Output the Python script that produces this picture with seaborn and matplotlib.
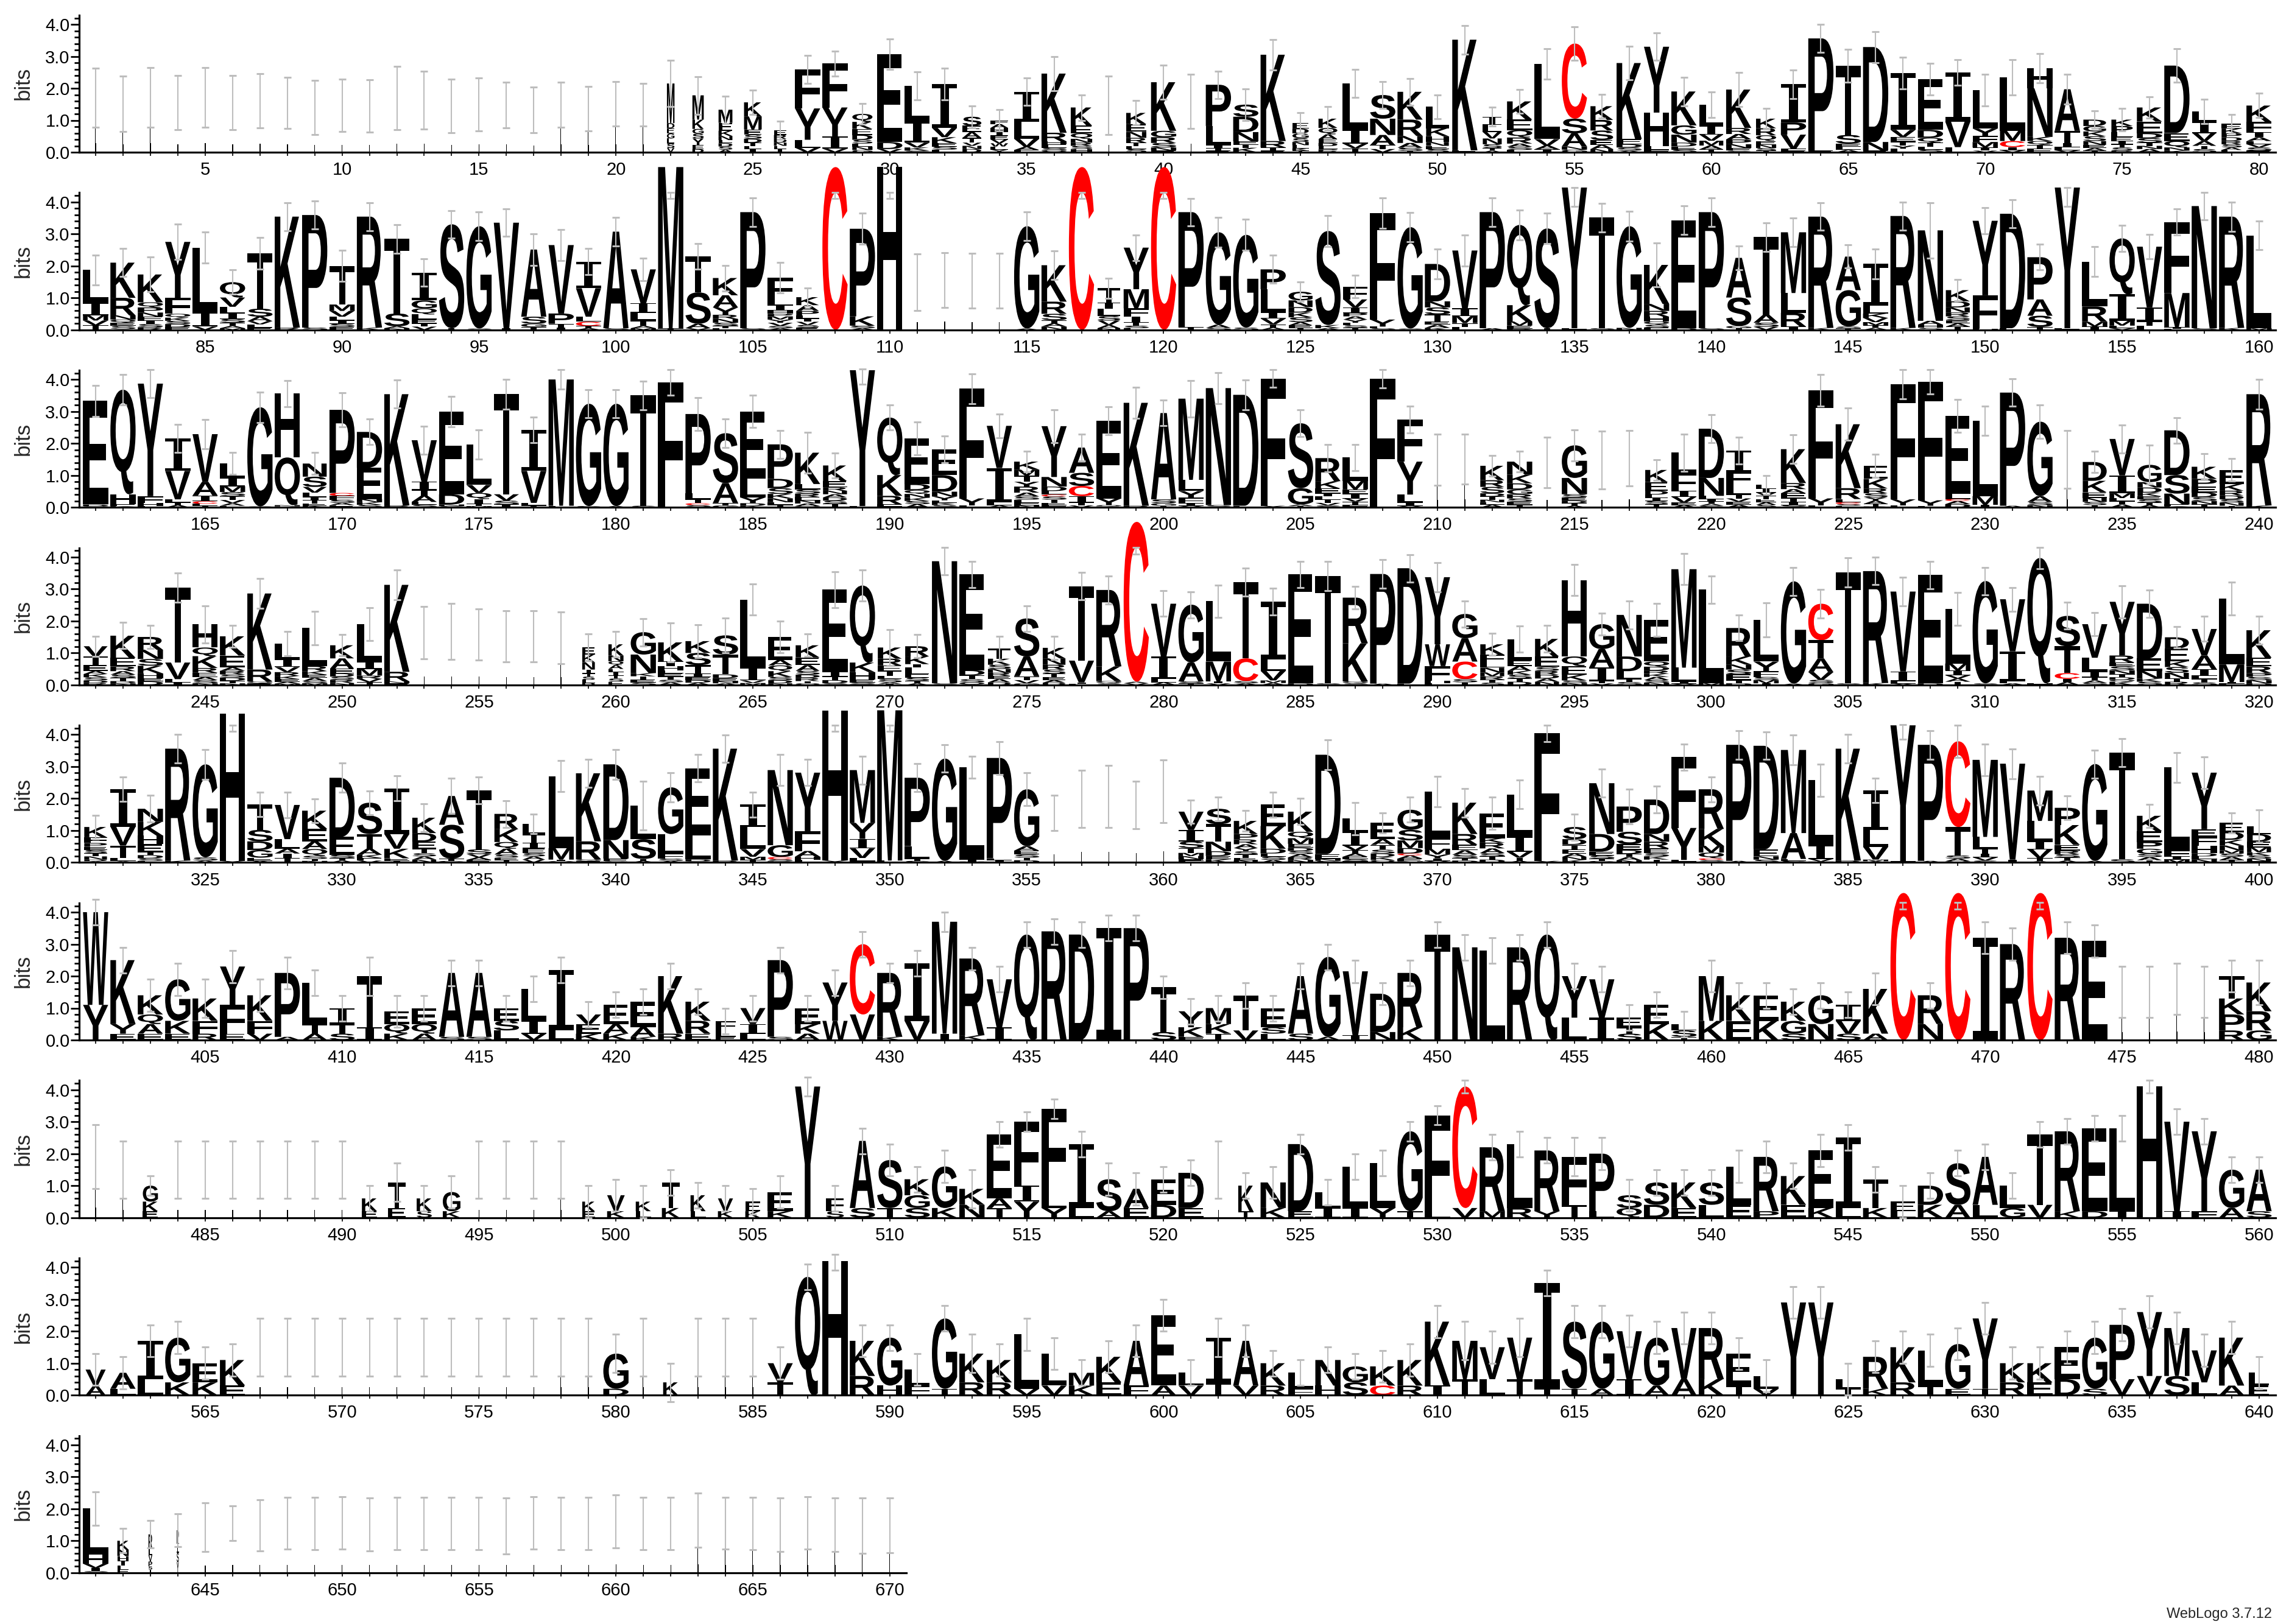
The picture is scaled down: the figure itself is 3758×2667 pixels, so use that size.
import matplotlib
matplotlib.use("Agg")
import matplotlib.pyplot as plt
import numpy as np
import pandas as pd
import seaborn as sns
from matplotlib.textpath import TextPath
from matplotlib.path import Path
from matplotlib.patches import PathPatch
from matplotlib.transforms import Affine2D
from matplotlib.font_manager import FontProperties
from matplotlib.ticker import FixedLocator, FixedFormatter

# ---------------- data: one token per position ----------------
# token = letters top->bottom with heights in bits, w = stack width fraction,
# t = error bar top, b = error bar bottom (default symmetric about stack top)
ROW_START = [1, 81, 161, 241, 321, 401, 481, 561, 641]

ROW1 = [
"L1.71 w.04 t2.63","L1.52 w.04 t2.39","L1.72 w.04 t2.65","L1.55 w.04 t2.40","L1.72 w.04 t2.65",
"L1.55 w.04 t2.40","L1.61 w.04 t2.46","L1.54 w.04 t2.34","L1.40 w.04 t2.24","L1.47 w.04 t2.29",
"L1.45 w.04 t2.27","L1.69 w.04 t2.68","L1.63 w.04 t2.54","L1.45 w.04 t2.29","L1.49 w.04 t2.32",
"L1.48 w.04 t2.19","L1.32 w.04 t2.03","L1.49 w.04 t2.19","L1.36 w.04 t2.06","L1.51 w.04 t2.21",
"L1.48 w.04 t2.15","M1.24 D.16 E.16 G.16 L.16 S.14 V.13 w.3 t2.88","M.76 K.29 G.15 S.15 Y.2 E.13 D.1 w.45 t2.37",
"M.41 E.25 K.16 N.13 L.1 D.1 S.1 A.08 w.55 t1.76","K.44 M.41 E.16 S.13 D.12 T.1 L.1 I.1 w.7 t1.94",
"E.15 R.12 D.12 N.1 L.1 I.1 w.5 t.98","F1.22 Y.98 L.25 V.14 t3.02","F1.38 Y.91 I.38 V.11 t3.17",
"Q.25 K.22 E.19 D.15 S.12 L.1 N.1 G.07 w.8 t1.52","E2.75 D.22 V.1 t3.54","L1.12 I.66 V.15 K.1 S.05 t2.52",
"I1.37 V.29 K.19 E.1 S.1 L.08 t2.63","S.28 E.2 A.18 T.15 V.1 N.1 D.1 w.75 t1.45",
"F.12 A.12 H.12 I.12 E.12 V.12 W.1 L.1 Y.08 w.7 t1.33","I.93 L.54 V.25 A.1 E.07 t2.32",
"K1.85 R.27 H.1 E.1 S.07 Q.07 t3.0","K.57 E.24 Q.17 N.12 R.1 S.1 H.1 w.85 t1.80","L1.47 w.04 t2.38",
"K.35 E.24 N.19 R.15 T.1 L.1 S.1 w.8 t1.61","K1.52 G.2 R.18 S.14 N.1 E.05 t2.73","L1.59 w.04 t2.44",
"P1.29 L.6 I.1 T.07 E.05 t2.54","S.38 D.48 N.29 E.1 T.1 K.14 t1.99","K2.7 R.2 T.1 E.05 t3.52",
"E.18 D.15 G.15 S.12 N.1 L.1 K.07 T.05 w.65 t1.23","K.29 Q.2 A.15 E.12 D.1 L.1 P.05 R.04 w.75 t1.42",
"L1.45 I.43 V.15 T.12 t2.59","S.74 N.51 A.32 T.12 V.1 t2.21","K.87 R.51 N.22 A.15 S.1 T.04 t2.31",
"L.67 K.25 H.18 N.12 E.1 S.1 w.9 t1.80","K3.46 E.06 t3.97","I.26 L.22 V.2 N.18 S.12 T.08 A.05 w.75 t1.41",
"K.57 E.33 Q.23 R.19 A.1 S.1 L.07 t1.97","L2.35 V.2 A.12 I.09 t3.23","C2.35 S.46 A.41 N.1 G.08 t3.92",
"K.43 R.33 S.3 E.15 A.13 N.1 w.9 t1.81","K2.38 E.16 D.1 S.1 A.05 t3.31","Y2.06 H1.05 L.12 F.07 t3.73",
"K1.06 G.29 N.25 D.12 E.1 S.08 t2.35","L.67 I.27 V.19 M.15 A.12 T.09 w.95 t1.89",
"K1.2 R.19 A.17 P.15 N.12 E.08 S.05 t2.49","K.3 R.22 Q.18 E.12 N.1 S.08 T.05 w.8 t1.38",
"I1.2 P.38 V.44 F.06 E.05 t2.58","P3.51 E.05 t4.0","T2.16 S.27 E.1 L.1 A.07 t3.21","D2.97 N.27 E.05 t3.78",
"I1.78 V.22 E.15 T.12 Y.1 L.11 t2.97","E1.59 D.25 Q.15 T.12 L.1 S.08 t2.79","I1.54 V.8 L.16 t2.9",
"L1.2 Y.23 F.19 M.17 I.1 V.05 t2.44","L1.67 M.32 C.19 I.1 V.06 t2.89","H.63 N1.52 K.13 Q.12 T.12 E.11 t3.08",
"A1.3 T.38 I.13 L.1 V.06 t2.44","D.2 G.17 K.15 S.15 N.12 E.1 A.08 T.05 w.9 t1.30",
"K.2 P.2 L.15 E.12 I.1 T.1 S.1 R.05 w.85 t1.37","K.44 E.37 D.15 S.14 T.1 N.1 A.1 t1.73",
"D2.11 E.25 Q.2 N.1 K.05 t3.23","L.32 I.35 V.25 A.15 T.1 S.1 w.95 t1.65",
"E.15 K.15 P.12 D.12 R.1 S.1 A.08 L.07 w.8 t1.19","K.51 F.32 I.16 A.12 L.1 V.1 S.1 E.05 t1.84",
]

ROW2 = [
"L1.02 I.4 M.16 V.15 T.14 t2.33","K1.1 R.55 N.13 Q.1 E.1 S.1 T.02 t2.54","K.87 Q.16 P.16 N.13 E.13 I.1 S.1 R.08 t2.27",
"Y1.75 F.5 Q.12 K.1 S.1 D.1 E.08 t3.3","L2.03 I.44 V.1 t3.05","Q.48 V.29 L.2 I.18 S.12 T.1 A.07 M.05 t1.87",
"T1.73 S.25 A.14 V.1 L.1 E.07 t2.89","K3.47 R.07 t3.98","P3.52 S.07 t4.03","T1.21 M.2 V.18 L.12 I.1 S.1 E.09 t2.48",
"R3.47 K.07 t3.98","T2.33 S.4 A.06 N.05 t3.29","I.87 G.25 Q.19 L.16 E.12 T.1 V.1 t2.22","S3.25 T.05 t3.73",
"G3.2 S.04 t3.68","V3.3 I.05 t3.78","A2.1 S.22 G.1 T.09 t3.0","V2.14 P.32 T.12 I.07 t3.13",
"I.83 V.89 L.16 C.13 T.07 A.05 t2.54","A3.02 S.05 t3.51","V1.06 I.3 L.24 T.17 A.07 M.05 t2.24","M5.05 T.04 b4.1 t4.3",
"T1.13 S.98 A.14 V.05 t2.7","K.54 A.38 Y.23 R.13 N.12 S.1 T.07 E.05 t2.02","P3.63 S.05 t4.13",
"F.68 L.19 I.15 H.11 P.08 M.1 Y.1 V.1 S.07 A.05 t2.1","K.25 A.18 P.14 L.1 I.1 V.1 S.08 E.07 w.9 t1.31",
"C5.09 b4.1 t4.3","P2.74 K.29 S.08 A.05 t3.65","H5.09 b4.1 t4.3","L1.49 w.04 t2.38","L1.55 w.04 t2.41",
"L1.53 w.04 t2.39","L1.53 w.04 t2.39","G3.2 A.04 t3.68","K1.14 R.38 S.2 T.1 A.1 N.1 t2.46","C5.09 b4.1 t4.3",
"T.45 I.2 L.22 S.14 V.14 A.1 N.05 w.9 t1.61","Y1.3 M.6 F.25 I.19 T.1 S.08 L.05 t2.97","C5.09 b4.1 t4.3",
"P3.6 T.08 t4.11","G2.89 A.1 S.06 t3.51","G2.9 S.07 t3.46","P.62 L.73 I.19 V.18 T.1 A.07 t2.33",
"G.27 N.21 D.17 K.15 S.15 A.1 E.08 T.06 w.95 t1.5","S2.94 K.1 A.05 t3.57",
"F.4 V.25 I.17 P.11 A.1 Y.1 L.08 S.07 T.07 w.95 t1.7","F3.33 Y.22 L.05 S.05 t4.13","G3.17 S.04 t3.66",
"D1.17 N.19 S.22 T.22 E.1 A.1 K.06 t2.53","V1.81 I.24 M.22 T.12 L.09 t2.97","P3.63 A.05 t4.13",
"Q2.51 K.51 M.13 E.1 R.03 t3.75","S3.12 T.05 t3.65","Y4.4 F.05 b3.85 t4.45","T3.46 S.05 t3.96","G3.18 N.06 t3.7",
"K1.22 N.22 R.18 H.15 Q.1 S.1 E.06 t2.71","E3.38 D.05 t3.87","P3.63 S.05 t4.13","A1.24 S.89 G.07 T.05 t2.62",
"T2.43 A.25 S.13 V.09 t3.35","M1.9 L.62 R.43 I.1 t3.5","R3.48 K.06 t3.97","A1.05 G1.14 S.06 T.04 t2.65",
"I1.3 L.25 K.14 V.13 M.1 T.08 A.06 t2.53","R3.5 K.06 t4.0","N2.83 A.12 H.1 S.06 t3.98",
"K.35 D.19 N.16 R.12 S.12 E.1 A.1 T.1 w.95 t1.57","Y2.33 F1.0 L.05 H.03 t3.82","D3.58 E.05 t4.06",
"P1.32 A.51 S.35 T.09 t2.67","Y4.4 F.05 b3.85 t4.45","L1.4 R.48 M.15 I.1 t2.6","Q1.75 I.83 M.15 L.08 V.05 t3.27",
"V1.9 I.43 T.15 L.12 t2.98","F2.22 M1.07 I.05 L.03 t3.78","N3.82 S.05 t4.3","R3.48 K.06 t4.0","L2.9 M.05 t3.4",
]

ROW3 = [
"E3.24 D.05 Q.04 t3.81","Q3.27 H.32 E.05 K.04 t4.15","Y3.52 F.22 H.08 L.05 t4.3","I1.02 V.89 L.1 T.08 A.07 t2.6",
"V1.49 A.43 I.18 C.08 L.06 T.05 t2.74","L.44 I.27 M.18 S.13 T.12 V.1 A.08 E.05 t1.71","G3.1 S.03 t3.6",
"H2.0 Q1.49 N.04 E.03 t3.97","N.41 S.32 V.18 L.14 I.1 T.1 E.07 K.05 w.95 t1.71","P2.6 C.09 F.12 S.1 A.07 E.07 t3.59",
"D1.12 E.98 N.1 K.08 S.08 t2.76","K3.48 R.06 t3.98","V1.3 I.25 T.18 A.2 L.09 S.08 t2.54","E2.59 D.32 N.05 S.04 t3.48",
"L1.27 V.25 Q.19 I.15 T.07 M.04 t2.43","T3.13 V.2 S.12 I.09 t4.0","I1.29 V1.0 L.08 T.06 t2.83","M3.95 L.05 t4.3",
"G3.2 S.04 t3.68","G3.2 A.04 t3.68","T3.45 S.05 t3.95","F3.85 L.05 t4.3","P2.48 L.19 T.12 C.06 S.05 A.02 t3.44",
"S1.56 A.62 T.08 G.06 t2.76","E2.11 L.58 Y.18 D.08 K.05 t3.51","P1.08 D.29 S.18 K.14 N.12 E.08 T.08 t2.41",
"K.98 L.17 S.13 R.11 E.1 N.1 A.08 Q.04 t2.35","K.49 E.19 R.11 N.11 A.1 D.1 S.1 T.11 w.95 t1.7",
"Y4.25 F.04 b3.85 t4.32","Q1.8 K.65 R.27 E.06 S.03 t3.2","E1.43 D.19 Q.12 N.12 K.1 S.1 A.1 t2.68",
"E.81 D.52 N.15 Y.12 L.08 K.07 S.07 t2.24","F3.43 Y.22 L.06 t4.17","V1.32 I1.07 L.1 A.06 t2.92",
"K.25 M.19 T.19 Y.15 R.19 A.12 S.1 L.1 E.08 N.06 t1.76","Y1.59 N.3 D.14 L.11 C.06 S.1 T.1 E.07 F.07 t3.05",
"A.79 S.41 C.32 I.19 T.1 V.06 t2.29","E2.43 Y.21 Q.04 D.03 t3.14","K3.22 R.05 t3.75","A2.7 S.12 G.08 T.05 t3.35",
"M2.54 L.35 Y.21 F.17 I.08 V.05 t3.97","N3.66 S.07 t4.21","D3.47 E.05 t3.98","F3.98 Y.05 t4.3",
"S2.03 G.51 A.05 T.04 t3.05","R.72 K.23 E.15 I.1 L.1 T.1 V.08 S.06 t1.97","L.73 M.27 E.15 I.13 V.1 T.1 F.08 t1.97",
"F3.97 L.05 t4.3","F1.32 Y1.03 L.25 I.1 V.05 t3.17","L1.49 w.04 t2.29","L1.51 w.04 t2.29",
"K.45 R.21 S.2 D.1 T.1 N.08 E.08 A.08 w.95 t1.63","N.41 K.27 D.19 G.15 R.13 S.1 E.1 T.08 t1.76","L1.41 w.04 t2.2",
"G1.02 N.51 S.1 E.1 D.08 T.08 A.05 t2.43","L1.48 w.04 t2.38","L1.54 w.04 t2.41",
"K.38 E.27 D.12 L.1 I.1 S.1 T.1 w.9 t1.49","L.63 F.57 I.18 V.18 E.08 A.07 t2.29",
"D1.54 N.56 L.1 I.08 T.07 A.06 S.05 t2.9","I.67 F.41 L.3 T.12 V.1 E.1 A.08 t2.2",
"L.12 I.12 V.1 T.1 E.1 A.08 S.08 w.8 t1.0","K1.06 R.19 A.13 E.15 T.12 I.1 S.07 t2.27","F3.38 Y.22 L.06 t4.16",
"K2.0 R.34 L.1 C.06 S.05 E.05 t3.11","E.41 K.3 R.15 S.13 Y.1 A.1 T.08 D.03 w.95 t1.67","F3.6 Y.19 L.06 t4.3",
"F3.7 Y.17 L.05 t4.3","E2.44 L.16 C.06 A.1 D.1 t3.37","L2.36 M.27 I.08 t3.17","P3.54 A.05 t4.02",
"G2.33 A.18 S.1 N.07 t3.21","L1.5 w.04 t2.41","D.59 K.36 E.18 N.12 S.1 T.07 w.95 t1.75",
"V1.14 I.56 M.15 L.1 T.1 A.09 t2.58","G.54 N.17 D.16 K.11 E.1 S.1 T.08 A.07 w.95 t1.94",
"D1.4 S.58 N.34 E.05 K.04 t2.81","K.38 P.24 E.18 D.15 S.12 N.1 T.1 t1.68",
"E.44 K.21 R.15 D.12 S.1 N.1 T.05 w.95 t1.52","R3.48 K.06 t4.0",
]

ROW4 = [
"V.32 T.27 E.18 A.1 K.1 S.1 D.08 R.06 w.95 t1.52","K.69 E.27 R.15 A.11 S.1 T.1 D.07 N.05 t1.95",
"R.4 N.29 S.21 K.24 H.15 E.1 D.11 t1.87","T2.35 V.52 L.1 I.08 t3.51","H.73 Q.27 K.37 R.15 E.13 A.1 S.1 N.05 t2.48",
"K.6 E.37 A.11 R.11 S.1 D.1 T.08 N.05 t1.87","K2.38 R.37 Q.06 E.05 t3.33","L.51 I.23 V.16 R.12 K.1 E.08 A.06 M.04 t1.68",
"L1.19 R.16 K.11 E.1 A.1 S.07 M.05 t2.3","K.41 A.32 E.15 D.1 S.1 R.1 N.06 w.95 t1.57","L1.17 I.23 M.21 R.1 V.1 T.09 t2.41",
"K2.72 R.3 N.06 E.05 t3.59","L1.63 w.04 t2.45","L1.67 w.04 t2.54","L1.57 w.04 t2.37","L1.52 w.04 t2.32",
"L1.52 w.04 t2.32","L1.48 w.04 t2.29","E.22 K.24 N.23 I.12 T.1 S.1 L.1 D.06 w.5 t1.59",
"K.35 N.18 Q.12 A.12 L.1 I.1 T.1 S.1 E.1 w.6 t1.67","G.7 N.58 K.1 T.1 E.1 S.07 t2.08",
"K.6 I.15 H.12 L.1 E.1 T.1 S.08 A.08 t1.94","K.37 S.38 T.27 I.1 E.1 D.08 A.07 t1.89","S.6 T.62 D.12 E.1 N.06 A.05 t2.1",
"L2.13 I.4 V.08 M.06 t3.16","E.72 A.17 Q.18 K.18 S.1 D.1 N.05 w.95 t1.99","K.38 E.24 A.18 S.12 D.1 R.1 T.07 Q.05 w.95 t1.59",
"E2.58 I.13 T.12 D.1 S.05 t3.54","Q2.41 K.3 H.23 E.1 S.05 D.02 t3.59","K.35 R.21 E.18 T.15 L.1 S.1 A.05 I.03 w.95 t1.73",
"R.32 K.24 I.11 L.21 E.1 S.1 T.08 A.05 w.95 t1.57","N3.82 S.05 t4.3","E3.0 D.16 T.12 S.1 Q.08 t3.87",
"T.32 K.19 S.13 N.12 R.1 E.1 A.1 D.08 w.9 t1.52","S1.19 A.62 T.12 V.1 G.05 t2.48",
"K.33 N.2 R.15 S.13 T.1 E.1 A.08 D.07 w.9 t1.52","T2.33 V.68 I.05 L.03 t3.52","R2.39 K.46 Q.07 S.05 t3.41",
"C5.0 A.05 V.05 b4.1 t4.3","V1.65 I.71 L.1 A.08 t2.94","G1.81 A.59 S.06 T.05 t2.92","L1.89 M.62 I.06 V.05 t3.12",
"T2.39 C.71 S.07 A.05 t3.66","I1.81 L.35 V.3 M.08 A.06 t3.02","E3.41 D.05 t3.87","T3.36 S.05 t3.87",
"R1.43 K1.19 Q.06 S.05 t3.09","P3.43 A.04 t3.92","D3.61 E.04 t4.08","Y2.1 W.68 F.46 H.08 L.05 t3.82",
"G.76 A.73 C.55 S.1 T.08 t2.63","K.32 F.24 L.17 N.15 M.12 R.1 T.1 S.07 w.95 t1.61",
"L.67 E.17 A.15 K.12 S.12 T.1 D.1 w.95 t1.84","K.55 E.33 S.12 R.12 D.12 A.1 N.1 w.95 t1.86",
"H2.39 Q.3 E.27 K.18 S.08 N.06 t3.77","G.78 A.57 I.43 T.07 V.05 t2.24","N1.3 D.46 L.24 T.1 S.09 t2.63",
"E1.3 Q.16 D.12 R.1 K.1 A.1 S.08 N.07 t2.54","M3.08 L.44 I.06 V.04 t4.11","L2.92 M.06 t3.41",
"R.89 K.25 N.16 S.15 E.18 T.1 D.05 t2.18","L1.3 Y.3 F.18 S.1 M.1 I.05 t2.56","G3.2 A.04 t3.68",
"C1.14 T.57 A.43 V.24 S.1 G.06 t2.98","T3.47 S.05 t3.97","R3.5 K.06 t3.99","V2.5 I.3 L.08 A.04 t3.37",
"E3.39 D.05 t3.87","L1.71 M.22 I.15 V.1 A.1 T.1 t2.89","G3.2 S.05 t3.68","V1.63 I.94 L.06 A.05 t3.05",
"Q3.92 H.05 t4.3","S.95 T.84 C.18 I.1 A.09 t2.58","V1.05 L.43 I.18 T.1 A.08 S.06 t2.27",
"Y1.68 R.22 E.12 S.12 N.12 T.1 D.08 Q.06 K.1 t3.11","D1.71 E.39 N.24 K.1 S.1 t2.97",
"D.35 E.4 K.18 S.18 N.18 T.1 R.1 w.95 t1.82","V.83 A.43 I.21 L.1 T.1 S.08 t2.14","L2.06 M.55 I.05 F.04 t3.21",
"K.86 E.27 R.21 P.12 S.1 N.1 D.05 t2.14",
]

ROW5 = [
"K.32 F.18 P.12 E.1 S.1 T.1 N.1 D.05 A.04 w.9 t1.48","I1.17 V.59 T.39 L.1 A.04 t2.67",
"N.41 K.43 H.27 E.24 T.1 D.1 S.08 L.05 t2.1","R3.5 K.06 t4.0","G2.91 S.1 A.06 t3.54","H4.6 Y.05 b4.1 t4.3",
"T.79 S.36 D.27 G.24 E.1 A.05 t2.19","V1.07 L.3 A.15 I.15 T.1 E.03 t2.2","K.57 E.39 A.24 Q.21 S.1 T.06 N.05 t1.99",
"D1.85 E.56 S.1 T.08 A.06 t3.11","S.98 T.46 A.19 K.1 E.08 V.06 t2.24","I1.43 V.46 K.3 E.08 T.05 t2.71",
"K.48 D.27 E.21 T.15 S.1 A.1 N.09 w.95 t1.84","A.9 S1.06 T.07 G.05 t2.63","T1.84 S.15 V.1 A.08 E.08 t2.67",
"R.48 K.4 Q.21 A.18 S.1 E.08 T.07 w.95 t1.94","L.32 T.27 I.18 E.15 S.1 A.1 V.09 w.9 t1.52","L2.25 M.36 I.05 V.04 t3.19",
"K2.13 R.56 Q.06 E.04 t3.22","D2.37 N.58 E.08 S.04 t3.54","L1.05 S.62 T.06 A.05 t2.54","G1.46 L.62 F.15 S.07 A.05 t2.81",
"E2.1 L.75 D.06 Q.04 t3.38","K3.5 R.06 t3.98","I.7 L.69 V.24 M.1 T.08 t2.2","N2.35 G.37 C.07 S.06 D.04 t3.37",
"Y1.83 F.62 A.18 H.1 L.08 t3.22","H4.7 Y.06 b4.1 t4.3","M1.65 Y.5 I.3 V.3 L.1 F.04 t3.33","M4.7 L.06 b4.1 t4.3",
"P2.14 L.39 T.07 S.05 t3.09","G3.2 A.05 t3.68","L2.9 I.05 V.03 t3.33","P3.14 L.06 I.04 A.03 t3.78",
"G1.78 A.14 E.12 S.1 T.08 D.07 t2.81","L1.55 w.04 t2.11","L1.99 w.04 t2.88","L2.06 w.04 t3.03","L1.8 w.04 t2.55",
"L2.22 w.04 t3.2","V.57 I.36 S.21 T.15 M.1 N.1 E.05 L.05 t1.95","S.48 T.55 N.3 D.15 E.1 K.1 t2.05",
"K.41 P.17 R.15 A.12 Y.1 S.1 T.1 E.08 N.07 w.95 t1.63","E.67 K.71 D.15 L.1 S.1 A.08 t2.2",
"K.63 Q.2 M.18 E.12 D.1 S.1 A.1 R.08 N.08 t2.0","D3.11 E.15 N.06 S.05 t3.83","L.41 I.43 V.15 T.1 A.1 E.08 S.06 F.04 t1.87",
"E.51 A.18 T.15 S.12 D.1 K.1 Q.08 w.95 t1.56","G.63 S.33 M.24 D.17 C.06 A.1 E.08 N.04 t2.04",
"L1.46 F.33 M.18 Y.12 I.08 V.05 t2.69","K.98 R.33 E.18 A.14 S.1 T.08 D.06 t2.32","E.78 K.14 R.18 A.15 S.1 T.1 D.09 t2.04",
"L1.32 I.48 V.18 T.1 A.05 t2.57","F3.99 Y.05 t4.3","S.38 D.18 T.15 E.12 A.1 N.1 K.08 w.95 t1.52",
"N1.59 D.55 E.12 S.1 T.07 G.05 t2.92","P.79 S.39 E.18 D.12 T.1 A.1 N.07 t2.29","D1.08 N.24 R.21 E.15 S.1 K.1 T.09 t2.38",
"F2.22 Y1.0 L.05 I.03 t3.71","R1.24 K.53 M.21 Q.18 C.05 S.05 E.03 t2.68","P3.63 A.05 t4.13","D3.24 E.22 N.1 S.09 t4.08",
"M2.6 A.81 L.06 S.05 t3.98","L2.03 I.43 V.08 M.03 t3.08","K3.5 R.06 t4.0","I1.24 L.52 V.4 M.05 A.04 t2.63",
"Y4.25 F.04 b3.86 t4.32","P3.63 A.05 t4.13","C2.68 T.89 S.1 A.08 V.04 t4.29","M2.41 L.37 T.15 I.12 V.1 S.06 t3.7",
"V3.0 I.06 L.03 t3.56","M.95 L.65 I.24 V.27 T.1 A.04 t2.7","P.54 K.62 E.18 R.11 S.1 T.1 A.06 t2.08","G3.03 A.05 t3.52",
"T3.33 S.1 t3.87","K.48 E.34 P.21 G.16 S.1 A.1 T.07 t1.82","L2.58 F.2 I.1 M.09 t3.43",
"Y1.77 E.24 F.27 H.24 D.1 L.09 N.1 t3.3","E.29 D.24 K.18 N.15 M.1 S.1 A.1 T.08 w.95 t1.56",
"L.25 D.24 E.18 M.15 K.1 S.1 N.08 T.04 w.95 t1.65",
]

ROW6 = [
"W2.9 Y1.1 t4.4","K2.0 Y.3 E.2 t2.9","K.6 Q.3 A.3 E.2 t1.9","G1.3 K.4 E.2 t2.4","K.7 F.4 R.2 t1.9",
"Y1.2 F.9 E.2 t2.8","K.8 F.4 V.2 t1.9","P2.0 A.1 t2.6","L1.3 T.3 A.2 t2.2","I.5 T.3 S.2 t1.4",
"T1.6 I.4 t2.6","E.4 Q.3 K.2 t1.4","E.5 Q.3 A.2 t1.4","A2.0 S.1 t2.5","A2.0 S.1 t2.5",
"E.4 S.3 L.3 t1.4","L1.0 I.4 V.2 t2.0","I1.9 L.3 t2.6","V.3 E.3 K.2 t1.2","E.6 A.3 K.2 t1.5",
"E.8 A.3 K.1 t1.6","K1.8 R.2 t2.4","K.6 R.4 E.2 t1.6","F.3 L.2 E.1 w.8 t1.0","V.5 I.3 L.2 t1.4",
"P2.4 S.1 t2.9","E.5 K.3 A.2 t1.4","Y1.2 W.6 t2.2","C2.2 V.8 t3.4","R2.0 K.1 t2.4",
"I1.8 V.6 t2.8","M3.5 I.2 t4.0","R2.4 K.15 t2.9","V1.5 I.4 t2.3","Q3.3 t3.7",
"R3.4 t3.8","D3.3 t3.7","I3.5 t3.9","P3.5 t3.9","T1.4 S.25 t2.0",
"Y.5 K.3 F.1 t1.3","M.5 K.3 T.2 t1.4","T1.1 V.3 t1.8","E.6 S.2 L.2 t1.4","A1.8 S.2 t2.4",
"G2.5 A.1 t3.0","V2.0 I.15 t2.5","D1.2 N.25 t1.8","R1.7 K.4 t2.5","T3.3 t3.7",
"N2.9 t3.3","L2.8 t3.2","R2.9 t3.3","Q3.3 t3.7","Y1.3 L.7 t2.4",
"V1.2 I.7 t2.3","E.3 T.2 S.2 t1.1","E.6 K.5 t1.5","L.2 S.2 T.1 t.9","M1.4 K.6 t2.5",
"K.8 E.6 t1.8","E.8 K.6 t1.8","K.6 G.4 S.2 t1.6","G.9 N.5 t1.8","I.5 V.4 S.2 t1.5",
"K1.4 A.2 t2.1","C4.6 b4.1 t4.3","R.9 N.5 t1.8","C4.6 b4.1 t4.3","I3.2 t3.7",
"R3.0 t3.5","C4.6 b4.1 t4.3","R3.2 t3.7","E3.1 t3.6","L1.5 w.04 t2.3",
"L1.5 w.04 t2.3","L1.6 w.04 t2.4","L1.5 w.04 t2.3","T.7 K.5 P.5 R.3 t2.5","K.9 R.6 G.3 t2.5",
]

ROW7 = [
"L1.9 w.04 t2.9","L1.5 w.04 t2.4","G.5 K.3 E.2 w.6 t1.3","L1.5 w.04 t2.4","L1.5 w.04 t2.4",
"L1.5 w.04 t2.4","L1.5 w.04 t2.4","L1.5 w.04 t2.4","L1.5 w.04 t2.4","L1.5 w.04 t2.4",
"K.4 E.2 w.6 t1.0","T.8 E.3 w.7 t1.7","K.4 S.2 w.6 t1.0","G.6 K.2 w.7 t1.3","L1.5 w.04 t2.4",
"L1.5 w.04 t2.4","L1.5 w.04 t2.4","L1.5 w.04 t2.4","K.3 E.2 w.5 t1.0","V.5 K.2 w.7 t1.2",
"K.3 L.2 w.6 t1.0","T.8 K.3 w.7 t1.5","K.5 L.2 w.6 t1.1","V.4 K.2 w.6 t1.0","E.3 K.2 w.6 t.9",
"E.6 K.2 t1.3","Y4.1 t4.4","F.4 S.2 w.7 t1.0","A2.1 S.3 t2.8","S1.5 T.3 t2.3",
"K.5 G.4 S.3 t1.6","G1.3 K.3 t2.1","K.5 N.4 t1.5","E2.0 A.3 T.3 t3.0","F2.0 I.5 Y.5 t3.3",
"F2.6 L.5 Y.3 t3.7","I2.0 L.3 t2.7","S1.0 A.2 t1.7","A.6 E.3 t1.4","E.8 D.4 t1.6",
"D1.1 E.3 t1.8","L1.5 w.04 t2.4","K.8 T.2 w.6 t1.4","N.8 K.3 t1.6","D2.1 E.2 t2.6",
"L.5 I.3 t1.2","L1.3 I.3 t2.0","L1.4 Y.3 t2.1","G2.5 T.2 t3.0","F3.0 L.2 t3.5",
"C3.8 V.3 t4.3","R2.0 M.2 t2.6","L2.0 R.3 t2.7","R1.9 Y.2 t2.5","F1.5 T.4 t2.5",
"P1.8 L.2 t2.5","S.4 Q.3 t1.2","S.7 D.4 t1.5","K.8 E.3 t1.5","S.7 L.4 t1.5",
"L1.2 E.4 t2.1","R1.7 P.2 t2.4","K.9 E.4 t1.7","E1.8 K.3 t2.6","I2.2 L.3 t2.9",
"T.9 K.3 t1.6","E.3 L.2 t1.0","D.6 K.4 t1.4","S1.3 A.4 t2.1","A1.5 L.4 t2.3",
"L.7 G.3 t1.4","T2.2 V.4 t3.0","R2.5 K.2 t3.1","E2.6 D.2 t3.2","L2.6 I.2 t3.2",
"H4.1 t4.3","V2.8 I.2 t3.4","Y2.5 F.2 t3.1","G1.2 A.3 t1.9","A1.3 S.2 t1.9",
]

ROW8 = [
"V.5 A.3 w.8 t1.3","A.5 L.2 t1.2","I1.2 L.5 t2.2","G1.4 K.4 t2.3","E.6 K.4 t1.5",
"K.8 E.3 t1.6","L1.5 w.04 t2.4","L1.5 w.04 t2.4","L1.5 w.04 t2.4","L1.5 w.04 t2.4",
"L1.5 w.04 t2.4","L1.5 w.04 t2.4","L1.5 w.04 t2.4","L1.5 w.04 t2.4","L1.5 w.04 t2.4",
"L1.5 w.04 t2.4","L1.5 w.04 t2.4","L1.5 w.04 t2.4","L1.5 w.04 t2.4","G1.1 D.2 t1.9",
"L1.5 w.04 t2.4","K.4 w.6 t1.0","L1.5 w.04 t2.4","L1.5 w.04 t2.4","L1.5 w.04 t2.4",
"V.6 T.4 t1.5","Q3.7 t4.1","H4.2 b3.9 t4.4","K1.1 R.6 t2.2","G1.5 H.3 t2.2",
"L.5 F.3 t1.3","G2.2 T.2 t2.8","K.9 R.4 t1.9","K.7 R.4 t1.6","L1.7 V.2 t2.4",
"L1.0 V.3 t1.8","M.4 K.3 t1.1","K.8 E.4 t1.7","A1.4 F.3 t2.2","E2.2 A.3 t3.0",
"L.4 V.3 t1.1","I1.4 T.4 t2.4","A1.4 V.3 t2.2","K.7 R.3 t1.4","L.5 F.2 t1.1",
"N.8 H.3 t1.5","G.5 S.4 t1.3","K.6 C.3 t1.4","K.8 R.3 t1.6","K2.0 I.3 t2.8",
"M1.2 T.5 t2.3","V1.0 L.5 t2.0","V1.3 T.5 t2.4","I3.3 T.2 t3.9","S2.1 T.2 t2.8",
"G2.1 A.2 t2.8","V1.5 I.5 t2.5","G1.5 A.3 t2.3","V1.6 A.5 t2.6","R1.6 K.5 t2.6",
"E1.0 T.3 t1.8","L.4 V.2 t1.1","Y2.9 t3.4","Y2.9 t3.4","L.3 T.2 t1.0",
"R1.0 K.2 t1.7","K1.1 R.4 t2.0","L1.1 T.3 t1.9","G1.4 E.2 t2.1","Y2.2 T.2 t2.9",
"K.6 R.4 t1.5","K.6 E.4 t1.5","E1.0 D.5 t2.0","G1.6 S.2 t2.3","P1.7 V.5 t2.7",
"Y2.0 V.6 t3.1","M1.5 S.6 t2.6","V1.0 L.4 t1.9","K1.5 A.3 t2.3","L.4 E.3 w.8 t1.2",
]

ROW9 = [
"L1.44 H.29 V.13 I.1 S.05 t2.53","K.28 N.2 H.15 I.15 L.12 E.1 w.45 t1.38","R.45 L.2 V.2 P.15 S.1 T.1 w.15 t1.63",
"P.4 I.3 S.3 Y.33 w.08 t1.84","L1.43 w.05 t2.19","L1.55 w.04 t2.09","L1.49 w.03 t2.29","L1.55 w.03 t2.36",
"L1.54 w.03 t2.36","L1.55 w.03 t2.37","L1.51 w.03 t2.34","L1.54 w.03 t2.36","L1.54 w.03 t2.36",
"L1.54 w.03 t2.36","L1.54 w.03 t2.36","L1.46 w.03 t2.34","L1.55 w.03 t2.37","L1.54 w.03 t2.36",
"L1.54 w.03 t2.36","L1.6 w.03 t2.43","L1.54 w.03 t2.36","L1.54 w.03 t2.36","L1.65 w.03 t2.5",
"L1.55 w.03 t2.36","L1.54 w.03 t2.36","L1.5 w.03 t2.34","L1.55 w.03 t2.37","L1.5 w.03 t2.34",
"L1.47 w.03 t2.34","L1.48 w.03 t2.34",
]

ROWS = [ROW1, ROW2, ROW3, ROW4, ROW5, ROW6, ROW7, ROW8, ROW9]
YMAX = 4.29
FOOTER = "WebLogo 3.7.12"


def parse(tok):
    letters, w, t, b = [], 1.0, None, None
    for it in tok.split():
        k, v = it[0], float(it[1:])
        if k == "w":
            w = v
        elif k == "t":
            t = v
        elif k == "b":
            b = v
        else:
            letters.append((k, v))
    return letters, w, t, b


recs, errs = [], []
for r, (start, toks) in enumerate(zip(ROW_START, ROWS)):
    for i, tok in enumerate(toks):
        pos = start + i
        letters, w, t, b = parse(tok)
        h = sum(v for _, v in letters)
        y = h
        for ch, v in letters:
            y -= v
            recs.append(dict(row=r, pos=pos, letter=ch, y0=y, h=v, w=w))
        if t is not None:
            lo = b if b is not None else 2 * h - t
            errs.append(dict(row=r, pos=pos, lo=lo, hi=t))
letters_df = pd.DataFrame(recs)
err_df = pd.DataFrame(errs)

# ---------------- figure ----------------
sns.set_style("ticks")
plt.rcParams["font.family"] = ["Liberation Sans", "DejaVu Sans"]

W, H = 3758, 2667
fig = plt.figure(figsize=(W / 100, H / 100), dpi=100)
fig.patch.set_facecolor("white")

fp = FontProperties(family="Liberation Sans", weight="bold")
_cache = {}


def serif_I():
    bar, stem = 0.09, 0.17
    v = [(0, 0), (1, 0), (1, bar), (0.5 + stem, bar), (0.5 + stem, 1 - bar), (1, 1 - bar),
         (1, 1), (0, 1), (0, 1 - bar), (0.5 - stem, 1 - bar), (0.5 - stem, bar), (0, bar), (0, 0)]
    codes = [Path.MOVETO] + [Path.LINETO] * 11 + [Path.CLOSEPOLY]
    p = Path(v, codes)
    return p, p.get_extents()


def glyph(ch):
    if ch not in _cache:
        if ch == "I":
            _cache[ch] = serif_I()
        else:
            p = TextPath((0, 0), ch, size=1, prop=fp)
            _cache[ch] = (p, p.get_extents())
    return _cache[ch]


PX_PER_BIT = 52.5
PITCH = 44.96
LEFT_PX = 130

for r, start in enumerate(ROW_START):
    n = len(ROWS[r])
    zero_px = 250 + 291.6 * r
    full = n == 80
    span = 80.2 if full else n + 0.2
    ax = fig.add_axes([LEFT_PX / W, (H - zero_px) / H, span * PITCH / W, YMAX * PX_PER_BIT / H])
    ax.set_xlim(start - 0.6, start - 0.6 + span)
    ax.set_ylim(0, YMAX)
    sns.despine(ax=ax)
    ax.set_facecolor("none")
    for sp in ("left", "bottom"):
        ax.spines[sp].set_linewidth(2.3)
        ax.spines[sp].set_color("black")

    sub = letters_df[letters_df.row == r]
    for rec in sub.itertuples():
        if rec.h < 0.008:
            continue
        p, bb = glyph(rec.letter)
        gw = rec.w * 0.92
        tr = (Affine2D().translate(-bb.x0, -bb.y0)
              .scale(gw / bb.width, rec.h / bb.height)
              .translate(rec.pos - gw / 2, rec.y0))
        col = "#ff0000" if rec.letter == "C" else "black"
        ax.add_patch(PathPatch(tr.transform_path(p), fc=col, ec="none", lw=0,
                               clip_on=False, zorder=2))

    es = err_df[err_df.row == r]
    mid = (es.hi + es.lo) / 2
    half = (es.hi - es.lo) / 2
    eb = ax.errorbar(es.pos, mid, yerr=half, fmt="none", ecolor="#bdbdbd",
                     elinewidth=1.5, capsize=4.3, capthick=2.2, zorder=3)
    for art in eb.lines[1] + eb.lines[2]:
        art.set_clip_on(False)

    majors = [p for p in range(start, start + n) if p % 5 == 0]
    ax.xaxis.set_major_locator(FixedLocator(majors))
    ax.xaxis.set_major_formatter(FixedFormatter([str(p) for p in majors]))
    ax.xaxis.set_minor_locator(FixedLocator(list(range(start, start + n))))
    ax.tick_params(axis="x", which="both", direction="out", length=4, width=1.2,
                   colors="black", labelsize=21, pad=7)
    ax.set_yticks([0, 1, 2, 3, 4])
    ax.set_yticklabels(["0.0", "1.0", "2.0", "3.0", "4.0"])
    ax.set_yticks(np.arange(0.2, 4.29, 0.2), minor=True)
    ax.tick_params(axis="y", which="major", direction="out", length=10, width=2,
                   colors="black", labelsize=21, pad=1)
    ax.tick_params(axis="y", which="minor", direction="out", length=6, width=2, colors="black")
    fig.text(38 / W, (H - zero_px + YMAX * PX_PER_BIT / 2) / H, "bits", rotation=90,
             ha="center", va="center", fontsize=25)

fig.text(3730 / W, (H - 2657) / H, FOOTER, ha="right", va="baseline", fontsize=17)
fig.savefig("out.png", dpi=100, facecolor="white")
